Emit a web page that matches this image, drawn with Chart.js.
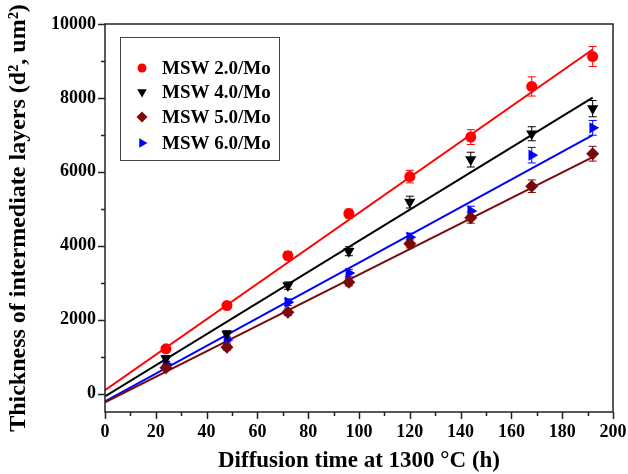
<!DOCTYPE html>
<html>
<head>
<meta charset="utf-8">
<script src="https://cdn.jsdelivr.net/npm/chart.js@4/dist/chart.umd.min.js"></script>
<style>
  html, body { margin: 0; padding: 0; background: #fff; }
  #wrap { width: 628px; height: 474px; position: relative; }
</style>
</head>
<body>
<div id="wrap"><canvas id="chart"></canvas></div>
<script>
// Tiempos de difusión (h)
const hours = [24, 48, 72, 96, 120, 144, 168, 192];

// Espesor medido (d², um²) y barras de error
const msw20 = [1210, 2380, 3730, 4870, 5870, 6940, 8310, 9120];
const msw20Err = [80, 90, 110, 120, 170, 200, 260, 270];
const msw40 = [950, 1610, 2920, 3850, 5180, 6330, 7030, 7710];
const msw40Err = [80, 90, 100, 120, 160, 200, 190, 220];
const msw50 = [700, 1250, 2200, 3010, 4050, 4760, 5610, 6490];
const msw50Err = [70, 80, 90, 100, 110, 150, 170, 200];
const msw60 = [800, 1450, 2470, 3260, 4230, 4940, 6450, 7190];
const msw60Err = [70, 80, 90, 100, 110, 130, 210, 200];

// Rectas de ajuste (extremos)
const fitX = [0, 192];
const fit20 = [90, 9310];
const fit40 = [-80, 8010];
const fit50 = [-240, 6400];
const fit60 = [-215, 6990];

const yTicksMajor = [0, 2000, 4000, 6000, 8000, 10000];

const serif = '"Liberation Serif", "Times New Roman", serif';

const series = [
  { label: 'MSW 2.0/Mo', data: msw20, err: msw20Err, fit: fit20, color: '#ff0000', style: 'circle', rot: 0, r: 5.5 },
  { label: 'MSW 4.0/Mo', data: msw40, err: msw40Err, fit: fit40, color: '#000000', style: 'triangle', rot: 180, r: 6.5 },
  { label: 'MSW 5.0/Mo', data: msw50, err: msw50Err, fit: fit50, color: '#7a0a0a', style: 'rectRot', rot: 0, r: 6.5 },
  { label: 'MSW 6.0/Mo', data: msw60, err: msw60Err, fit: fit60, color: '#0000ff', style: 'triangle', rot: 90, r: 6.5 },
];

const pts = (xs, ys) => xs.map((x, i) => ({ x, y: ys[i] }));

const datasets = [];
series.forEach((s) => {
  datasets.push({
    type: 'line', label: s.label + ' fit', data: pts(fitX, s.fit),
    borderColor: s.color, borderWidth: 2, pointRadius: 0, fill: false, order: 2,
  });
});
series.forEach((s) => {
  datasets.push({
    type: 'scatter', label: s.label, data: pts(hours, s.data),
    backgroundColor: s.color, borderColor: s.color, borderWidth: 0,
    pointStyle: s.style, pointRotation: s.rot, pointRadius: s.r, order: 1,
  });
});

// barras de error con las escalas del gráfico
const errorBars = {
  id: 'errorBars',
  beforeDatasetsDraw(chart) {
    const { ctx, scales: { x, y } } = chart;
    ctx.save();
    ctx.lineWidth = 1;
    series.forEach((s) => {
      ctx.strokeStyle = s.color;
      hours.forEach((h, i) => {
        const px = x.getPixelForValue(h);
        const top = y.getPixelForValue(s.data[i] + s.err[i]);
        const bot = y.getPixelForValue(s.data[i] - s.err[i]);
        ctx.beginPath();
        ctx.moveTo(px, top); ctx.lineTo(px, bot);
        ctx.moveTo(px - 4, top); ctx.lineTo(px + 4, top);
        ctx.moveTo(px - 4, bot); ctx.lineTo(px + 4, bot);
        ctx.stroke();
      });
    });
    ctx.restore();
  },
};

// marco, ticks (mayores/menores) y leyenda dentro del área
const frameAndLegend = {
  id: 'frameAndLegend',
  afterDraw(chart) {
    const { ctx, chartArea: a, scales: { x, y } } = chart;
    ctx.save();
    ctx.strokeStyle = '#222';
    ctx.lineWidth = 1.5;
    ctx.strokeRect(a.left, a.top, a.right - a.left, a.bottom - a.top);
    ctx.beginPath();
    for (let v = 0; v <= 200; v += 10) {
      const px = Math.round(x.getPixelForValue(v)) + 0.5;
      ctx.moveTo(px, a.bottom); ctx.lineTo(px, a.bottom + (v % 20 === 0 ? 7 : 4));
    }
    for (let v = 0; v <= 10000; v += 1000) {
      const py = Math.round(y.getPixelForValue(v)) + 0.5;
      ctx.moveTo(a.left, py); ctx.lineTo(a.left - (v % 2000 === 0 ? 7 : 4), py);
    }
    ctx.stroke();

    // leyenda
    const bx = 120, by = 37, bw = 159, bh = 123;
    ctx.lineWidth = 1;
    ctx.strokeStyle = '#444';
    ctx.strokeRect(bx + 0.5, by + 0.5, bw, bh);
    ctx.font = 'bold 19px ' + serif;
    ctx.textBaseline = 'middle';
    const rows = [68, 92, 117, 143];
    series.forEach((s, i) => {
      ctx.fillStyle = s.color;
      ctx.strokeStyle = s.color;
      Chart.helpers.drawPoint(ctx, { pointStyle: s.style, rotation: s.rot, radius: s.r - 1, borderWidth: 0 }, 142, rows[i]);
      ctx.fillStyle = '#000';
      ctx.fillText(s.label, 162, rows[i] + 1);
    });
    ctx.restore();
  },
};

new Chart(document.getElementById('chart'), {
  data: { datasets },
  options: {
    responsive: true, maintainAspectRatio: false, animation: false,
    layout: { padding: { top: 24, right: 15, left: 0, bottom: 0 } },
    plugins: { legend: { display: false }, tooltip: { enabled: false } },
    scales: {
      x: {
        type: 'linear', min: 0, max: 200,
        grid: { display: false, drawTicks: false },
        border: { display: false },
        ticks: { stepSize: 20, padding: 10, color: '#000', font: { family: serif, size: 18, weight: 'bold' } },
        title: { display: true, text: 'Diffusion time at 1300 °C (h)', color: '#000', padding: { top: 6, bottom: -1 }, font: { family: serif, size: 23, weight: 'bold' } },
        afterFit: (s) => { s.height = 62; s.paddingLeft = 0; s.paddingRight = 0; },
      },
      y: {
        type: 'linear', min: -500, max: 10000,
        afterBuildTicks: (s) => { s.ticks = yTicksMajor.map((v) => ({ value: v })); },
        grid: { display: false, drawTicks: false },
        border: { display: false },
        ticks: { padding: 9, color: '#000', font: { family: serif, size: 18, weight: 'bold' }, callback: (v) => String(v) },
        title: { display: true, text: 'Thickness of intermediate layers (d², um²)', color: '#000', padding: { top: 4, bottom: 0 }, font: { family: serif, size: 24, weight: 'bold' } },
        afterFit: (s) => { s.width = 105; s.paddingTop = 0; s.paddingBottom = 0; },
      },
    },
  },
  plugins: [errorBars, frameAndLegend],
});
</script>
</body>
</html>
